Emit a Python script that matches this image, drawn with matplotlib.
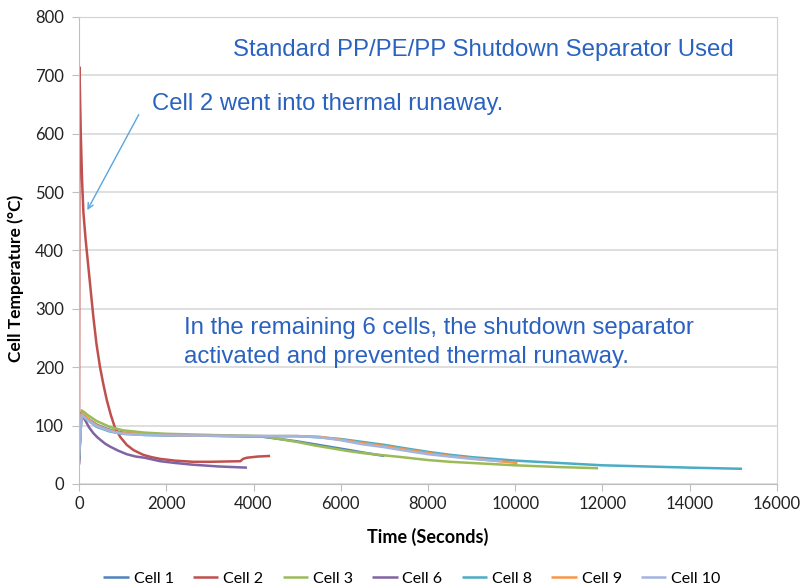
import matplotlib
matplotlib.use("Agg")
import matplotlib.pyplot as plt

plt.rcParams['font.family'] = ['Lato', 'DejaVu Sans']

# Time (s) / temperature (°C) for each cell
cell1_t = [0, 50, 120, 200, 300, 400, 550, 700, 850, 1000, 1250, 1500, 2000, 2500,
           3500, 4200, 4600, 5000, 5400, 5800, 6200, 6500, 7000]
cell1_y = [45, 120, 117, 112, 107, 102, 97, 93, 90, 88, 86, 85, 84, 83,
           82, 81, 77, 73, 68, 63, 58, 54, 48]

cell2_t = [0, 10, 40, 70, 100, 150, 214, 290, 329, 400, 482, 560, 636, 730, 826,
           950, 1094, 1250, 1470, 1660, 1860, 2200, 2617, 3000, 3700, 3760, 3850,
           4100, 4380]
cell2_y = [35, 714, 600, 520, 466, 420, 372, 315, 286, 240, 200, 170, 144, 118, 96,
           80, 67, 58, 50, 46, 43, 40, 38, 38, 39, 43, 45,
           47, 48]

cell3_t = [0, 60, 120, 200, 300, 400, 550, 700, 850, 1000, 1250, 1500, 2000, 2500,
           3500, 4200, 4600, 5000, 5400, 5800, 6200, 6500, 7000, 7400, 8000, 8500,
           9000, 10000, 11000, 11900]
cell3_y = [40, 126, 123, 118, 113, 108, 103, 98, 95, 92, 90, 88, 86, 85,
           83, 82, 77, 72, 66, 61, 56, 53, 49, 46, 41, 38,
           36, 32, 29, 27]

cell6_t = [0, 50, 100, 150, 230, 329, 420, 500, 600, 712, 900, 1094, 1300, 1500,
           1860, 2200, 2617, 3200, 3850]
cell6_y = [33, 121, 114, 108, 97, 87, 80, 75, 69, 64, 57, 51, 47, 45,
           39, 36, 33, 30, 28]

cell8_t = [0, 60, 120, 200, 300, 400, 550, 700, 850, 1000, 1250, 1500, 2000, 2500,
           4000, 5000, 5500, 6000, 6500, 7000, 7400, 8000, 8500, 9000, 10000, 11000,
           12000, 13000, 14000, 15200]
cell8_y = [42, 120, 115, 110, 104, 98, 94, 90, 88, 86, 85, 84, 83, 83,
           82, 82, 80, 77, 72, 67, 62, 55, 50, 46, 40, 36,
           32, 30, 28, 26]

cell9_t = [0, 60, 120, 200, 300, 400, 550, 700, 850, 1000, 1250, 1500, 2000, 2500,
           4000, 5000, 5500, 6000, 6500, 7000, 7400, 8000, 8500, 9000, 9500, 10050]
cell9_y = [50, 121, 117, 112, 106, 101, 96, 92, 89, 87, 86, 85, 84, 83,
           82, 82, 81, 76, 70, 65, 60, 53, 48, 44, 40, 36]

cell10_t = [0, 60, 120, 200, 300, 400, 550, 700, 850, 1000, 1250, 1500, 2000, 2500,
            4000, 5000, 5500, 6000, 6500, 7000, 7400, 8000, 8500, 9000, 9700]
cell10_y = [46, 118, 114, 109, 104, 99, 95, 91, 88, 86, 85, 84, 83, 83,
            82, 82, 80, 75, 68, 63, 58, 51, 47, 43, 39]

series = [
    ("Cell 1", cell1_t, cell1_y, "#4F81BD"),
    ("Cell 2", cell2_t, cell2_y, "#C0504D"),
    ("Cell 3", cell3_t, cell3_y, "#9BBB59"),
    ("Cell 6", cell6_t, cell6_y, "#8064A2"),
    ("Cell 8", cell8_t, cell8_y, "#4BACC6"),
    ("Cell 9", cell9_t, cell9_y, "#F79646"),
    ("Cell 10", cell10_t, cell10_y, "#A2B4E0"),
]

x_ticks = list(range(0, 16001, 2000))
y_ticks = list(range(0, 801, 100))

fig = plt.figure(figsize=(8.03, 5.86), dpi=100)
ax = fig.add_axes([0.0984, 0.1741, 0.8692, 0.7969])

for name, t, y, c in series:
    ax.plot(t, y, color=c, lw=1.8, label=name, solid_capstyle='butt')

ax.set_xlim(0, 16000)
ax.set_ylim(0, 800)
ax.set_xticks(x_ticks)
ax.set_yticks(y_ticks)
ax.tick_params(axis='both', labelsize=12, color='#BFBFBF', length=5,
               labelcolor='#222222')
ax.tick_params(axis='y', pad=6)
ax.grid(axis='y', color='#D9D9D9', lw=1.2)
ax.set_axisbelow(True)
for side in ('left', 'bottom'):
    ax.spines[side].set_color('#BFBFBF')
for side in ('top', 'right'):
    ax.spines[side].set_color('#C6D4EA')

ax.set_xlabel("Time (Seconds)", fontsize=13, fontweight='bold')
ax.xaxis.set_label_coords(0.5, -0.095)
ax.set_ylabel("Cell Temperature (°C)", fontsize=12.5, fontweight='bold')
ax.yaxis.set_label_coords(-0.079, 0.44)

blue = "#2A62C0"
note_font = ['Liberation Sans', 'DejaVu Sans']
ax.text(3536, 743, "Standard PP/PE/PP Shutdown Separator Used", fontsize=17.3,
        color=blue, ha='left', va='center', family=note_font)
ax.text(1676, 651, "Cell 2 went into thermal runaway.", fontsize=17.2,
        color=blue, ha='left', va='center', family=note_font)
ax.text(2411, 243, "In the remaining 6 cells, the shutdown separator\nactivated and prevented thermal runaway.",
        fontsize=17.3, color=blue, ha='left', va='center', linespacing=1.4,
        family=note_font)
ax.annotate("", xy=(160, 465), xytext=(1400, 637),
            arrowprops=dict(arrowstyle='->', color='#5AA5E0', lw=1.0))

fig.legend(loc='lower center', ncol=7, frameon=False, fontsize=11.5,
           bbox_to_anchor=(0.513, -0.024), handlelength=1.6, handletextpad=0.3,
           columnspacing=1.2)

fig.savefig("out.png", dpi=100)
